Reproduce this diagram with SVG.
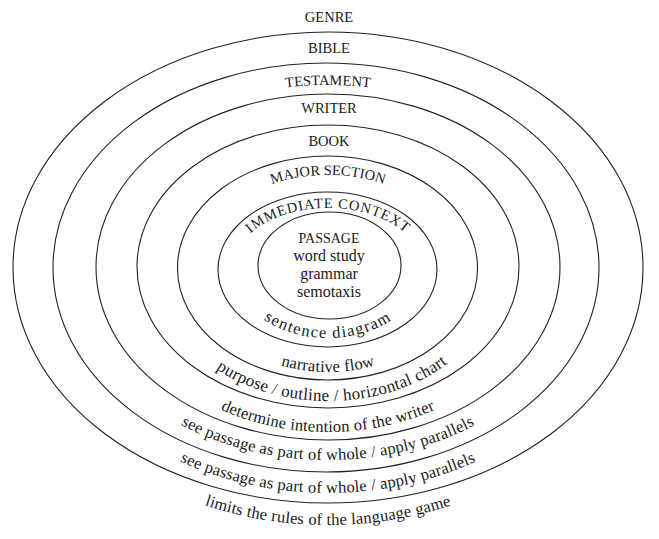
<svg xmlns="http://www.w3.org/2000/svg" xmlns:xlink="http://www.w3.org/1999/xlink" width="659" height="539" viewBox="0 0 659 539">
<style>
.ring{fill:none;stroke:#222;stroke-width:1.1}
.cap{font-family:"Liberation Serif","Times New Roman",serif;font-size:14.5px;fill:#1a1a1a;text-anchor:middle}
.low{font-family:"Liberation Serif","Times New Roman",serif;font-size:16.5px;fill:#1a1a1a;text-anchor:middle}
.ctr{font-family:"Liberation Serif","Times New Roman",serif;font-size:16px;fill:#1a1a1a;text-anchor:middle}
</style>
<defs>
<path id="pTest" d="M68,268 A260,183 0 0 1 588,268"/>
<path id="pMajor" d="M198,268 A130,93 0 0 1 458,268"/>
<path id="pImm" d="M233,268 A95,60 0 0 1 423,268"/>
<path id="pSent" d="M233,268 A95,70 0 0 0 423,268"/>
<path id="pNarr" d="M193,268 A135,104 0 0 0 463,268"/>
<path id="pPurp" d="M156,268 A172,133 0 0 0 500,268"/>
<path id="pDet" d="M116,268 A212,164 0 0 0 540,268"/>
<path id="pSee1" d="M73,268 A255,192 0 0 0 583,268"/>
<path id="pSee2" d="M38,268 A290,225 0 0 0 618,268"/>
<path id="pLim" d="M8,268 A320,257 0 0 0 648,268"/>
</defs>
<rect width="659" height="539" fill="#fff"/>
<g id="genre">
<text class="cap" x="329" y="22">GENRE</text>
<text class="low" letter-spacing="0.2"><textPath href="#pLim" xlink:href="#pLim" startOffset="50%">limits the rules of the language game</textPath></text>
</g>
<g id="bible">
<ellipse class="ring" cx="328" cy="267.5" rx="315" ry="235.5"/>
<text class="cap" x="329" y="53">BIBLE</text>
<text class="low" letter-spacing="0.2"><textPath href="#pSee2" xlink:href="#pSee2" startOffset="50%">see passage as part of whole / apply parallels</textPath></text>
</g>
<g id="testament">
<ellipse class="ring" cx="326" cy="267.5" rx="273" ry="204.5"/>
<text class="cap"><textPath href="#pTest" xlink:href="#pTest" startOffset="50%">TESTAMENT</textPath></text>
<text class="low" letter-spacing="0.2"><textPath href="#pSee1" xlink:href="#pSee1" startOffset="50%">see passage as part of whole / apply parallels</textPath></text>
</g>
<g id="writer">
<ellipse class="ring" cx="328" cy="267" rx="232" ry="173"/>
<text class="cap" x="329" y="113">WRITER</text>
<text class="low" letter-spacing="0.2"><textPath href="#pDet" xlink:href="#pDet" startOffset="50%">determine intention of the writer</textPath></text>
</g>
<g id="book">
<ellipse class="ring" cx="328" cy="266.5" rx="191" ry="141.5"/>
<text class="cap" x="329" y="146">BOOK</text>
<text class="low" style="font-size:17px" letter-spacing="0.3"><textPath href="#pPurp" xlink:href="#pPurp" startOffset="51%">purpose / outline / horizontal chart</textPath></text>
</g>
<g id="major-section">
<ellipse class="ring" cx="327.5" cy="268" rx="150" ry="112"/>
<text class="cap"><textPath href="#pMajor" xlink:href="#pMajor" startOffset="50%">MAJOR SECTION</textPath></text>
<text class="low" letter-spacing="0.2"><textPath href="#pNarr" xlink:href="#pNarr" startOffset="50%">narrative flow</textPath></text>
</g>
<g id="immediate-context">
<ellipse class="ring" cx="327.5" cy="269.5" rx="109.5" ry="77.5"/>
<text class="cap" letter-spacing="0.8"><textPath href="#pImm" xlink:href="#pImm" startOffset="50%">IMMEDIATE CONTEXT</textPath></text>
<text class="low" letter-spacing="1.3"><textPath href="#pSent" xlink:href="#pSent" startOffset="50%">sentence diagram</textPath></text>
</g>
<g id="passage">
<ellipse class="ring" cx="329.5" cy="265.5" rx="71.5" ry="53.5"/>
<text class="cap" x="329" y="243" style="font-size:14px">PASSAGE</text>
<text class="ctr" x="329" y="261">word study</text>
<text class="ctr" x="329" y="279">grammar</text>
<text class="ctr" x="329" y="297">semotaxis</text>
</g>
<g id="connectors"/>
</svg>
